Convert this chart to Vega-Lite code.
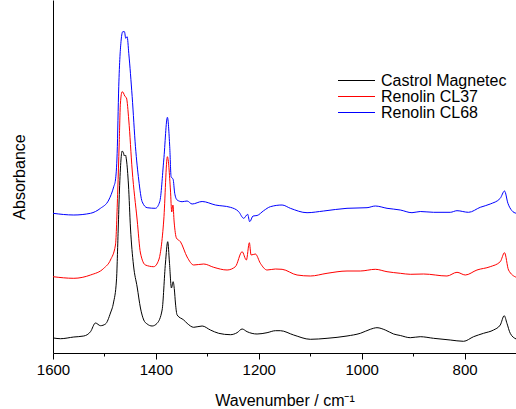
{
  "$schema": "https://vega.github.io/schema/vega-lite/v6.json",
  "autosize": {"type": "none"},
  "padding": {"left": 53, "top": 0, "right": 0, "bottom": 56},
  "width": 463,
  "height": 353,
  "background": "white",
  "config": {
    "view": {"stroke": null},
    "font": "Liberation Sans",
    "axis": {"labelFont": "Liberation Sans", "titleFont": "Liberation Sans", "labelColor": "black", "titleColor": "black", "domainColor": "black", "tickColor": "black", "titleFontWeight": "normal", "grid": false}
  },
  "data": {"values": [
    {"oil":"Castrol Magnetec","wn":1599,"a":0.14},
    {"oil":"Castrol Magnetec","wn":1585.4,"a":0.133},
    {"oil":"Castrol Magnetec","wn":1559.6,"a":0.15},
    {"oil":"Castrol Magnetec","wn":1540.2,"a":0.16},
    {"oil":"Castrol Magnetec","wn":1527.1,"a":0.203},
    {"oil":"Castrol Magnetec","wn":1517.4,"a":0.29},
    {"oil":"Castrol Magnetec","wn":1507.7,"a":0.263},
    {"oil":"Castrol Magnetec","wn":1498,"a":0.28},
    {"oil":"Castrol Magnetec","wn":1488.3,"a":0.39},
    {"oil":"Castrol Magnetec","wn":1482.5,"a":0.49},
    {"oil":"Castrol Magnetec","wn":1476.6,"a":0.72},
    {"oil":"Castrol Magnetec","wn":1473.3,"a":1.22},
    {"oil":"Castrol Magnetec","wn":1470.8,"a":1.62},
    {"oil":"Castrol Magnetec","wn":1467.9,"a":1.92},
    {"oil":"Castrol Magnetec","wn":1465.6,"a":2.01},
    {"oil":"Castrol Magnetec","wn":1463,"a":1.99},
    {"oil":"Castrol Magnetec","wn":1461.1,"a":1.96},
    {"oil":"Castrol Magnetec","wn":1459.2,"a":1.97},
    {"oil":"Castrol Magnetec","wn":1457.2,"a":1.92},
    {"oil":"Castrol Magnetec","wn":1453.3,"a":1.67},
    {"oil":"Castrol Magnetec","wn":1449.4,"a":1.24},
    {"oil":"Castrol Magnetec","wn":1443.6,"a":0.87},
    {"oil":"Castrol Magnetec","wn":1436.4,"a":0.65},
    {"oil":"Castrol Magnetec","wn":1430,"a":0.44},
    {"oil":"Castrol Magnetec","wn":1423.6,"a":0.32},
    {"oil":"Castrol Magnetec","wn":1417,"a":0.28},
    {"oil":"Castrol Magnetec","wn":1407.3,"a":0.26},
    {"oil":"Castrol Magnetec","wn":1397.6,"a":0.287},
    {"oil":"Castrol Magnetec","wn":1387.9,"a":0.42},
    {"oil":"Castrol Magnetec","wn":1381.4,"a":0.89},
    {"oil":"Castrol Magnetec","wn":1377,"a":1.103},
    {"oil":"Castrol Magnetec","wn":1373.7,"a":0.9},
    {"oil":"Castrol Magnetec","wn":1369.8,"a":0.64},
    {"oil":"Castrol Magnetec","wn":1366.5,"a":0.703},
    {"oil":"Castrol Magnetec","wn":1364,"a":0.62},
    {"oil":"Castrol Magnetec","wn":1362,"a":0.49},
    {"oil":"Castrol Magnetec","wn":1358.7,"a":0.37},
    {"oil":"Castrol Magnetec","wn":1345.9,"a":0.32},
    {"oil":"Castrol Magnetec","wn":1339.3,"a":0.287},
    {"oil":"Castrol Magnetec","wn":1326.5,"a":0.247},
    {"oil":"Castrol Magnetec","wn":1310.1,"a":0.26},
    {"oil":"Castrol Magnetec","wn":1294,"a":0.22},
    {"oil":"Castrol Magnetec","wn":1277.9,"a":0.187},
    {"oil":"Castrol Magnetec","wn":1255.2,"a":0.173},
    {"oil":"Castrol Magnetec","wn":1242.2,"a":0.193},
    {"oil":"Castrol Magnetec","wn":1232.4,"a":0.23},
    {"oil":"Castrol Magnetec","wn":1222.7,"a":0.203},
    {"oil":"Castrol Magnetec","wn":1203.3,"a":0.18},
    {"oil":"Castrol Magnetec","wn":1183.9,"a":0.193},
    {"oil":"Castrol Magnetec","wn":1167.7,"a":0.213},
    {"oil":"Castrol Magnetec","wn":1158,"a":0.213},
    {"oil":"Castrol Magnetec","wn":1132.2,"a":0.17},
    {"oil":"Castrol Magnetec","wn":1099.8,"a":0.127},
    {"oil":"Castrol Magnetec","wn":1067.3,"a":0.137},
    {"oil":"Castrol Magnetec","wn":1028.5,"a":0.16},
    {"oil":"Castrol Magnetec","wn":1002.6,"a":0.187},
    {"oil":"Castrol Magnetec","wn":983.2,"a":0.227},
    {"oil":"Castrol Magnetec","wn":970.2,"a":0.243},
    {"oil":"Castrol Magnetec","wn":954.1,"a":0.22},
    {"oil":"Castrol Magnetec","wn":937.9,"a":0.18},
    {"oil":"Castrol Magnetec","wn":924.9,"a":0.165},
    {"oil":"Castrol Magnetec","wn":905.5,"a":0.143},
    {"oil":"Castrol Magnetec","wn":886.1,"a":0.153},
    {"oil":"Castrol Magnetec","wn":860.2,"a":0.137},
    {"oil":"Castrol Magnetec","wn":827.8,"a":0.12},
    {"oil":"Castrol Magnetec","wn":801.9,"a":0.107},
    {"oil":"Castrol Magnetec","wn":782.5,"a":0.153},
    {"oil":"Castrol Magnetec","wn":763.1,"a":0.187},
    {"oil":"Castrol Magnetec","wn":743.7,"a":0.22},
    {"oil":"Castrol Magnetec","wn":730.6,"a":0.27},
    {"oil":"Castrol Magnetec","wn":722.9,"a":0.363},
    {"oil":"Castrol Magnetec","wn":717.6,"a":0.287},
    {"oil":"Castrol Magnetec","wn":711.2,"a":0.187},
    {"oil":"Castrol Magnetec","wn":699.6,"a":0.13},

    {"oil":"Renolin CL37","wn":1600,"a":0.753},
    {"oil":"Renolin CL37","wn":1559.6,"a":0.737},
    {"oil":"Renolin CL37","wn":1527.1,"a":0.77},
    {"oil":"Renolin CL37","wn":1501.3,"a":0.837},
    {"oil":"Renolin CL37","wn":1488.3,"a":0.92},
    {"oil":"Renolin CL37","wn":1478.6,"a":1.07},
    {"oil":"Renolin CL37","wn":1474.1,"a":1.62},
    {"oil":"Renolin CL37","wn":1471.4,"a":2.07},
    {"oil":"Renolin CL37","wn":1468.9,"a":2.49},
    {"oil":"Renolin CL37","wn":1465.6,"a":2.603},
    {"oil":"Renolin CL37","wn":1463,"a":2.59},
    {"oil":"Renolin CL37","wn":1460.5,"a":2.56},
    {"oil":"Renolin CL37","wn":1457.2,"a":2.54},
    {"oil":"Renolin CL37","wn":1452.7,"a":2.32},
    {"oil":"Renolin CL37","wn":1446.1,"a":1.82},
    {"oil":"Renolin CL37","wn":1436.4,"a":1.32},
    {"oil":"Renolin CL37","wn":1430,"a":0.99},
    {"oil":"Renolin CL37","wn":1420.3,"a":0.87},
    {"oil":"Renolin CL37","wn":1404.2,"a":0.853},
    {"oil":"Renolin CL37","wn":1394.5,"a":0.92},
    {"oil":"Renolin CL37","wn":1384.7,"a":1.32},
    {"oil":"Renolin CL37","wn":1377.6,"a":1.953},
    {"oil":"Renolin CL37","wn":1371.7,"a":1.62},
    {"oil":"Renolin CL37","wn":1369.2,"a":1.4},
    {"oil":"Renolin CL37","wn":1366.9,"a":1.47},
    {"oil":"Renolin CL37","wn":1364.5,"a":1.3},
    {"oil":"Renolin CL37","wn":1360.1,"a":1.14},
    {"oil":"Renolin CL37","wn":1352.3,"a":1.103},
    {"oil":"Renolin CL37","wn":1339.3,"a":0.95},
    {"oil":"Renolin CL37","wn":1326.5,"a":0.87},
    {"oil":"Renolin CL37","wn":1307,"a":0.88},
    {"oil":"Renolin CL37","wn":1287.6,"a":0.847},
    {"oil":"Renolin CL37","wn":1261.6,"a":0.82},
    {"oil":"Renolin CL37","wn":1245.5,"a":0.853},
    {"oil":"Renolin CL37","wn":1232.4,"a":1.003},
    {"oil":"Renolin CL37","wn":1224.1,"a":0.92},
    {"oil":"Renolin CL37","wn":1218.3,"a":1.093},
    {"oil":"Renolin CL37","wn":1215,"a":0.97},
    {"oil":"Renolin CL37","wn":1206.6,"a":0.98},
    {"oil":"Renolin CL37","wn":1196.9,"a":0.887},
    {"oil":"Renolin CL37","wn":1183.9,"a":0.82},
    {"oil":"Renolin CL37","wn":1167.7,"a":0.83},
    {"oil":"Renolin CL37","wn":1154.7,"a":0.827},
    {"oil":"Renolin CL37","wn":1125.6,"a":0.77},
    {"oil":"Renolin CL37","wn":1099.8,"a":0.76},
    {"oil":"Renolin CL37","wn":1067.3,"a":0.787},
    {"oil":"Renolin CL37","wn":1028.5,"a":0.81},
    {"oil":"Renolin CL37","wn":1002.6,"a":0.81},
    {"oil":"Renolin CL37","wn":973.5,"a":0.827},
    {"oil":"Renolin CL37","wn":950.7,"a":0.803},
    {"oil":"Renolin CL37","wn":924.9,"a":0.787},
    {"oil":"Renolin CL37","wn":905.5,"a":0.777},
    {"oil":"Renolin CL37","wn":879.6,"a":0.78},
    {"oil":"Renolin CL37","wn":834.2,"a":0.76},
    {"oil":"Renolin CL37","wn":814.7,"a":0.797},
    {"oil":"Renolin CL37","wn":798.6,"a":0.77},
    {"oil":"Renolin CL37","wn":775.9,"a":0.82},
    {"oil":"Renolin CL37","wn":750.1,"a":0.853},
    {"oil":"Renolin CL37","wn":730.6,"a":0.903},
    {"oil":"Renolin CL37","wn":722.3,"a":0.993},
    {"oil":"Renolin CL37","wn":714.5,"a":0.82},
    {"oil":"Renolin CL37","wn":699.6,"a":0.747},

    {"oil":"Renolin CL68","wn":1600,"a":1.387},
    {"oil":"Renolin CL68","wn":1559.6,"a":1.37},
    {"oil":"Renolin CL68","wn":1527.1,"a":1.387},
    {"oil":"Renolin CL68","wn":1507.7,"a":1.437},
    {"oil":"Renolin CL68","wn":1491.6,"a":1.52},
    {"oil":"Renolin CL68","wn":1481.9,"a":1.653},
    {"oil":"Renolin CL68","wn":1478.6,"a":1.72},
    {"oil":"Renolin CL68","wn":1475.3,"a":1.987},
    {"oil":"Renolin CL68","wn":1472.2,"a":2.653},
    {"oil":"Renolin CL68","wn":1467.5,"a":3.12},
    {"oil":"Renolin CL68","wn":1464.4,"a":3.203},
    {"oil":"Renolin CL68","wn":1461.1,"a":3.203},
    {"oil":"Renolin CL68","wn":1458.6,"a":3.137},
    {"oil":"Renolin CL68","wn":1455.9,"a":3.153},
    {"oil":"Renolin CL68","wn":1452.7,"a":2.987},
    {"oil":"Renolin CL68","wn":1446.1,"a":2.553},
    {"oil":"Renolin CL68","wn":1439.7,"a":2.053},
    {"oil":"Renolin CL68","wn":1433.3,"a":1.72},
    {"oil":"Renolin CL68","wn":1426.7,"a":1.503},
    {"oil":"Renolin CL68","wn":1417,"a":1.443},
    {"oil":"Renolin CL68","wn":1400.9,"a":1.437},
    {"oil":"Renolin CL68","wn":1392.5,"a":1.503},
    {"oil":"Renolin CL68","wn":1384.7,"a":1.92},
    {"oil":"Renolin CL68","wn":1377.6,"a":2.347},
    {"oil":"Renolin CL68","wn":1373.1,"a":2.053},
    {"oil":"Renolin CL68","wn":1370.4,"a":1.753},
    {"oil":"Renolin CL68","wn":1366.5,"a":1.727},
    {"oil":"Renolin CL68","wn":1363.4,"a":1.587},
    {"oil":"Renolin CL68","wn":1358.7,"a":1.52},
    {"oil":"Renolin CL68","wn":1349,"a":1.503},
    {"oil":"Renolin CL68","wn":1339.3,"a":1.51},
    {"oil":"Renolin CL68","wn":1329.6,"a":1.48},
    {"oil":"Renolin CL68","wn":1310.1,"a":1.505},
    {"oil":"Renolin CL68","wn":1284.3,"a":1.47},
    {"oil":"Renolin CL68","wn":1255.2,"a":1.447},
    {"oil":"Renolin CL68","wn":1239,"a":1.403},
    {"oil":"Renolin CL68","wn":1229.3,"a":1.337},
    {"oil":"Renolin CL68","wn":1221.6,"a":1.377},
    {"oil":"Renolin CL68","wn":1217.7,"a":1.303},
    {"oil":"Renolin CL68","wn":1211.1,"a":1.36},
    {"oil":"Renolin CL68","wn":1203.3,"a":1.365},
    {"oil":"Renolin CL68","wn":1190.5,"a":1.413},
    {"oil":"Renolin CL68","wn":1177.5,"a":1.453},
    {"oil":"Renolin CL68","wn":1154.7,"a":1.47},
    {"oil":"Renolin CL68","wn":1138.6,"a":1.437},
    {"oil":"Renolin CL68","wn":1106.2,"a":1.393},
    {"oil":"Renolin CL68","wn":1073.9,"a":1.41},
    {"oil":"Renolin CL68","wn":1028.5,"a":1.437},
    {"oil":"Renolin CL68","wn":989.6,"a":1.443},
    {"oil":"Renolin CL68","wn":973.5,"a":1.46},
    {"oil":"Renolin CL68","wn":950.7,"a":1.437},
    {"oil":"Renolin CL68","wn":924.9,"a":1.42},
    {"oil":"Renolin CL68","wn":902.2,"a":1.393},
    {"oil":"Renolin CL68","wn":886.1,"a":1.405},
    {"oil":"Renolin CL68","wn":860.2,"a":1.397},
    {"oil":"Renolin CL68","wn":827.8,"a":1.397},
    {"oil":"Renolin CL68","wn":814.7,"a":1.413},
    {"oil":"Renolin CL68","wn":792.2,"a":1.397},
    {"oil":"Renolin CL68","wn":769.5,"a":1.447},
    {"oil":"Renolin CL68","wn":750.1,"a":1.48},
    {"oil":"Renolin CL68","wn":730.6,"a":1.537},
    {"oil":"Renolin CL68","wn":722.3,"a":1.61},
    {"oil":"Renolin CL68","wn":715.7,"a":1.487},
    {"oil":"Renolin CL68","wn":707.9,"a":1.413},
    {"oil":"Renolin CL68","wn":699.6,"a":1.387}
  ]},
  "mark": {"type": "line", "strokeWidth": 1, "interpolate": "monotone", "clip": true},
  "encoding": {
    "x": {
      "field": "wn", "type": "quantitative",
      "scale": {"domain": [1600, 700], "nice": false, "zero": false},
      "axis": {
        "title": "Wavenumber / cm⁻¹",
        "titleFontSize": 16,
        "titlePadding": 15,
        "values": [1600, 1500, 1400, 1300, 1200, 1100, 1000, 900, 800, 700],
        "labelExpr": "datum.value % 200 === 0 ? datum.value : ''",
        "labelFontSize": 15,
        "labelPadding": 3,
        "labelFlush": false,
        "labelOverlap": false,
        "tickSize": {"condition": {"test": "datum.value % 200 === 0", "value": 6}, "value": 3},
        "domainWidth": 1,
        "tickWidth": 1
      }
    },
    "y": {
      "field": "a", "type": "quantitative",
      "scale": {"domain": [-0.01, 3.52], "nice": false, "zero": false},
      "axis": {
        "title": "Absorbance",
        "titleFontSize": 16,
        "titlePadding": 26,
        "ticks": false,
        "labels": false,
        "domainWidth": 1
      }
    },
    "color": {
      "field": "oil", "type": "nominal",
      "scale": {"domain": ["Castrol Magnetec", "Renolin CL37", "Renolin CL68"], "range": ["#000000", "#ff0000", "#0000ff"]},
      "legend": {
        "title": null,
        "orient": "none",
        "legendX": 295.5,
        "legendY": 72.5,
        "padding": 0,
        "symbolType": "M-3.7,0H3.7",
        "symbolSize": 100,
        "symbolStrokeWidth": 1,
        "labelFontSize": 16,
        "labelFont": "Liberation Sans",
        "labelColor": "black",
        "labelOffset": 16.5,
        "rowPadding": 0
      }
    }
  }
}
